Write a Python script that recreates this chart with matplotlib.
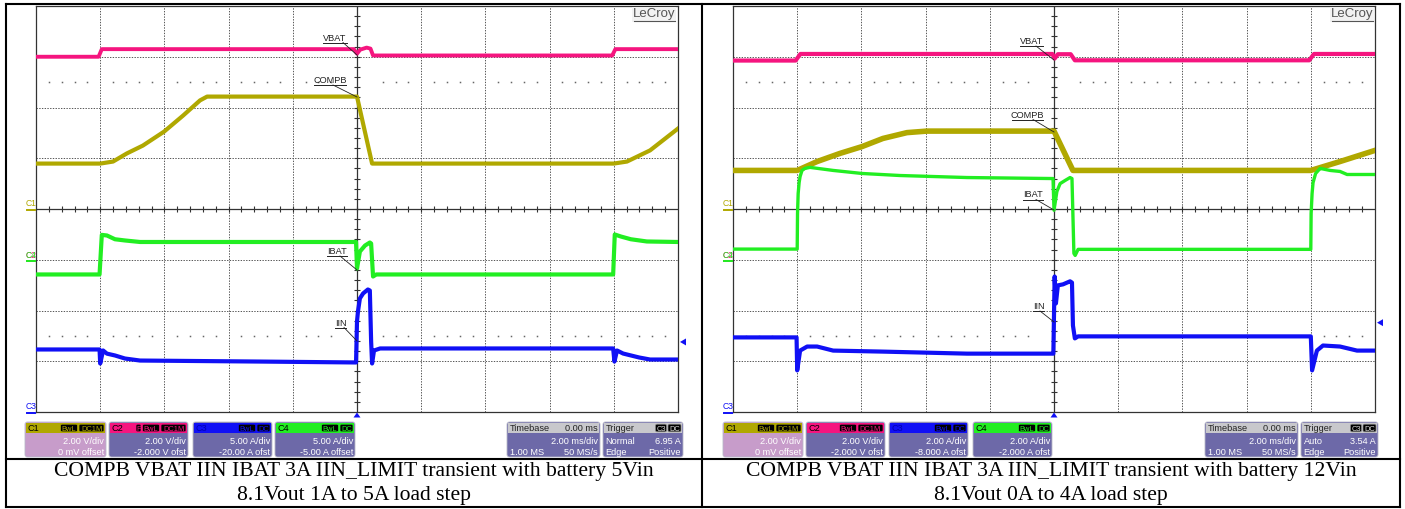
import matplotlib
matplotlib.use("Agg")
import matplotlib.pyplot as plt
from matplotlib.patches import FancyBboxPatch, Rectangle, Polygon
from matplotlib.collections import LineCollection
import numpy as np

W, H = 1405, 510

# ---------------- channel settings (per division, offset) ----------------
left_scales = [2.0, 2.0, 5.0, 5.0]          # C1 .. C4
left_offsets = [0.0, -2.0, -20.0, -5.0]
right_scales = [2.0, 2.0, 2.0, 2.0]
right_offsets = [0.0, -2.0, -8.0, -2.0]

# ---------------- left capture: 5Vin, 1A -> 5A load ----------------
left_compb_t = [-10, -8.0, -7.6, -7.17, -6.67, -6.01, -5.42, -4.89, -4.67, 0.0, 0.47, 8.0, 8.41, 9.13, 10]
left_compb_v = [1.79, 1.79, 1.87, 2.19, 2.50, 3.05, 3.68, 4.28, 4.43, 4.43, 1.79, 1.79, 1.87, 2.31, 3.17]

left_vbat_t = [-10, -8.05, -7.95, -0.1, 0.0, 0.1, 0.3, 0.42, 0.5, 7.95, 8.05, 10]
left_vbat_v = [8.0, 8.0, 8.30, 8.30, 8.12, 8.28, 8.36, 8.32, 8.05, 8.05, 8.30, 8.30]

left_ibat_t = [-10, -8.02, -7.95, -7.79, -7.54, -7.23, -6.76, -0.03, 0.0, 0.09, 0.25, 0.40, 0.44, 0.50, 0.6,
               7.98, 8.03, 8.22, 8.53, 9.03, 10]
left_ibat_a = [-1.45, -1.45, 2.45, 2.39, 2.02, 1.90, 1.75, 1.75, -0.86, 0.81, 1.40, 1.70, 1.60, -1.65, -1.45,
               -1.45, 2.49, 2.29, 2.02, 1.80, 1.75]

left_iin_t = [-10, -8.02, -8.0, -7.91, -7.79, -7.54, -7.23, -6.76, -3.02, -0.03, 0.0, 0.03, 0.09, 0.19, 0.34,
              0.40, 0.44, 0.47, 0.53, 0.72, 7.98, 8.02, 8.10, 8.29, 8.79, 9.13, 10]
left_iin_a = [6.16, 6.16, 4.78, 6.06, 5.75, 5.57, 5.27, 5.07, 4.97, 4.88, 8.92, 9.90, 11.19, 11.68, 12.07,
              11.97, 6.95, 4.78, 6.06, 6.26, 6.26, 4.97, 6.06, 5.76, 5.37, 5.17, 5.17]

# ---------------- right capture: 12Vin, 0A -> 4A load ----------------
right_compb_t = [-10, -8.0, -7.38, -6.67, -5.98, -5.33, -4.58, -3.96, 0.0, 0.59, 8.0, 8.91, 10]
right_compb_v = [1.52, 1.52, 1.87, 2.19, 2.46, 2.78, 3.01, 3.07, 3.07, 1.52, 1.52, 1.87, 2.31]

right_vbat_t = [-10, -8.05, -7.9, -0.05, 0.02, 0.12, 0.52, 0.65, 7.95, 8.1, 10]
right_vbat_v = [7.85, 7.85, 8.11, 8.11, 7.93, 8.10, 8.10, 7.86, 7.86, 8.11, 8.11]

right_ibat_t = [-10, -8.0, -7.99, -7.97, -7.94, -7.91, -7.85, -7.76, -7.60, -6.88, -5.98, -4.80, -2.71,
                -0.03, 0.0, 0.09, 0.19, 0.34, 0.50, 0.56, 0.62, 0.66, 0.75,
                8.0, 8.01, 8.04, 8.07, 8.15, 8.29, 8.6, 8.91, 9.13, 10]
right_ibat_a = [0.42, 0.42, 1.82, 2.61, 3.04, 3.28, 3.52, 3.60, 3.64, 3.52, 3.40, 3.32, 3.24,
                3.20, 1.95, 2.69, 3.00, 3.12, 3.24, 3.20, 0.25, 0.17, 0.41,
                0.41, 1.82, 2.61, 3.04, 3.40, 3.60, 3.52, 3.48, 3.36, 3.36]

right_iin_t = [-10, -8.02, -8.0, -7.91, -7.69, -7.38, -6.88, -5.33, -2.71, -0.02, 0.02, 0.06, 0.12, 0.28,
               0.50, 0.56, 0.59, 0.65, 0.75, 8.0, 8.04, 8.19, 8.38, 8.91, 9.44, 10]
right_iin_a = [2.94, 2.94, 1.64, 2.42, 2.58, 2.58, 2.42, 2.38, 2.30, 2.30, 5.34, 4.28, 4.99, 5.03,
               5.15, 5.10, 3.41, 2.90, 2.98, 2.98, 1.64, 2.42, 2.62, 2.58, 2.42, 2.42]

# ---------------- info-bar texts ----------------
left_ch_lines = [("2.00 V/div", "0 mV offset"), ("2.00 V/div", "-2.000 V ofst"),
                 ("5.00 A/div", "-20.00 A ofst"), ("5.00 A/div", "-5.00 A offset")]
right_ch_lines = [("2.00 V/div", "0 mV offset"), ("2.00 V/div", "-2.000 V ofst"),
                  ("2.00 A/div", "-8.000 A ofst"), ("2.00 A/div", "-2.000 A ofst")]
left_ch_badges = [["BwL", "DC1M"], ["F", "BwL", "DC1M"], ["BwL", "DC"], ["BwL", "DC"]]
right_ch_badges = [["BwL", "DC1M"], ["BwL", "DC1M"], ["BwL", "DC"], ["BwL", "DC"]]
left_trigger = ("Normal", "6.95 A")
right_trigger = ("Auto", "3.54 A")
left_caption = ["COMPB VBAT IIN IBAT 3A IIN_LIMIT transient with battery 5Vin",
                "8.1Vout 1A to 5A load step"]
right_caption = ["COMPB VBAT IIN IBAT 3A IIN_LIMIT transient with battery 12Vin",
                 "8.1Vout 0A to 4A load step"]

# ---------------- styling ----------------
COL = {"C1": "#b0a800", "C2": "#f5157f", "C3": "#1010f5", "C4": "#22ee22"}
BODY = "#6d69a8"
SANS = "Liberation Sans"
SERIF = "Liberation Serif"

fig = plt.figure(figsize=(W / 100, H / 100), dpi=100)
fig.patch.set_facecolor("white")

ov = fig.add_axes([0, 0, 1, 1], zorder=5)
ov.set_xlim(0, W)
ov.set_ylim(H, 0)
ov.axis("off")
ov.patch.set_alpha(0)


def to_div(values, scale, offset):
    return (np.asarray(values, dtype=float) + offset) / scale


def scope_grid(x0):
    ax = fig.add_axes([x0 / W, 1 - 413 / H, 642 / W, 406 / H], zorder=2)
    ax.set_xlim(-10, 10)
    ax.set_ylim(-4, 4)
    ax.set_facecolor("none")
    ax.set_xticks([])
    ax.set_yticks([])
    for s in ax.spines.values():
        s.set_linewidth(0.9)
        s.set_color("#333333")
    for k in range(-4, 5):
        if k != 0:
            ax.axvline(2 * k, color="#555555", lw=0.7, ls=(0, (1.4, 1.4)), zorder=1)
    for k in range(-3, 4):
        if k != 0:
            ax.axhline(k, color="#555555", lw=0.7, ls=(0, (1.4, 1.4)), zorder=1)
    ax.axhline(0, color="#333333", lw=0.9, zorder=1)
    ax.axvline(0, color="#333333", lw=0.9, zorder=1)
    segs = [[(i * 0.4, -0.055), (i * 0.4, 0.055)] for i in range(-24, 25)]
    segs += [[(-0.09, j * 0.2), (0.09, j * 0.2)] for j in range(-19, 20)]
    ax.add_collection(LineCollection(segs, colors="#333333", linewidths=0.8, zorder=1))
    xs = np.array([i * 0.4 for i in range(-24, 25) if i % 5 != 0 or i == 0])
    xs = xs[np.abs(xs) > 0.5]
    for yy in (2.5, -2.5):
        ax.plot(xs, np.full_like(xs, yy), ls="none", marker="s", ms=1.1,
                mfc="#666666", mec="none", zorder=1)
    return ax


def draw_traces(ax, scales, offsets, compb, vbat, iin, ibat, widths):
    ax.plot(compb[0], to_div(compb[1], scales[0], offsets[0]), color=COL["C1"], lw=widths[0], zorder=3)
    ax.plot(vbat[0], to_div(vbat[1], scales[1], offsets[1]), color=COL["C2"], lw=widths[1], zorder=3)
    ax.plot(iin[0], to_div(iin[1], scales[2], offsets[2]), color=COL["C3"], lw=widths[2], zorder=3)
    ax.plot(ibat[0], to_div(ibat[1], scales[3], offsets[3]), color=COL["C4"], lw=widths[3], zorder=4)


def tag(text, xl, xr, yc, yu, lead_from, lead_to):
    ov.text((xl + xr) / 2, yc, text, ha="center", va="center", fontsize=6.6,
            family=SANS, color="#222222")
    ov.plot([xl, xr], [yu, yu], color="#222222", lw=0.7)
    ov.plot([lead_from[0], lead_to[0]], [lead_from[1], lead_to[1]], color="#222222", lw=0.6)


def ground_marker(x, y, name, color):
    ov.text(x + 4, y - 6, name, ha="center", va="center", fontsize=6.2, family=SANS, color=color)
    ov.plot([x, x + 8], [y + 0.5, y + 0.5], color=color, lw=1.4)


BADGE_W = {"F": 6, "BwL": 18, "DC1M": 26, "DC": 14, "C3": 12}


def badges(xr, names, color, txt_color=None):
    x = xr
    for name in reversed(names):
        w = BADGE_W[name]
        ov.add_patch(FancyBboxPatch((x - w + 0.5, 425.2), w - 1, 7.6,
                                    boxstyle="round,pad=0,rounding_size=1.5",
                                    fc="black", ec=color, lw=0.5, zorder=6))
        ov.text(x - w / 2, 429.2, name, ha="center", va="center", fontsize=5.4,
                family=SANS, color=txt_color or color, zorder=7)
        x -= w + 0.5


def info_box(x0, x1, head_col, body_col):
    ov.add_patch(FancyBboxPatch((x0, 423), x1 - x0, 35, boxstyle="round,pad=0,rounding_size=2.5",
                                fc=body_col, ec="#b8b8c8", lw=0.6, zorder=4))
    ov.add_patch(Rectangle((x0 + 0.6, 423.6), x1 - x0 - 1.2, 10.8, fc=head_col, ec="none", zorder=5))


def bar_text(x, y, s, ha, color="white"):
    ov.text(x, y, s, ha=ha, va="center", fontsize=6.6, family=SANS, color=color, zorder=7)


def info_bar(boxes, ch_lines, ch_badges, tb, trig_box, trig):
    heads = [COL["C1"], COL["C2"], COL["C3"], COL["C4"]]
    bodies = ["#c79cca", BODY, BODY, BODY]
    name_cols = ["black", "black", "#0000b0", "black"]
    for i, (x0, x1) in enumerate(boxes):
        info_box(x0, x1, heads[i], bodies[i])
        bar_text(x0 + 2.5, 429, "C%d" % (i + 1), "left", name_cols[i])
        badges(x1 - 1.5, ch_badges[i], heads[i])
        bar_text(x1 - 2, 442, ch_lines[i][0], "right")
        bar_text(x1 - 2, 452.5, ch_lines[i][1], "right")
    x0, x1 = tb
    info_box(x0, x1, "#c8c8cc", BODY)
    bar_text(x0 + 2.5, 429, "Timebase", "left", "#222222")
    bar_text(x1 - 2, 429, "0.00 ms", "right", "#222222")
    bar_text(x1 - 2, 442, "2.00 ms/div", "right")
    bar_text(x0 + 2.5, 452.5, "1.00 MS", "left")
    bar_text(x1 - 2, 452.5, "50 MS/s", "right")
    x0, x1 = trig_box
    info_box(x0, x1, "#c8c8cc", BODY)
    bar_text(x0 + 2.5, 429, "Trigger", "left", "#222222")
    badges(x1 - 1.5, ["C3", "DC"], "#888888", "#dddddd")
    bar_text(x0 + 2.5, 442, trig[0], "left")
    bar_text(x1 - 2, 442, trig[1], "right")
    bar_text(x0 + 2.5, 452.5, "Edge", "left")
    bar_text(x1 - 2, 452.5, "Positive", "right")


def logo(xc):
    ov.add_patch(Rectangle((xc - 22, 7.5), 44, 15, fc="#f2f2f2", ec="none", zorder=4))
    ov.text(xc, 14.5, "LeCroy", ha="center", va="center", fontsize=9.5, family=SANS,
            color="#555555", zorder=6)
    ov.plot([xc - 20.5, xc + 20.5], [21.5, 21.5], color="#555555", lw=0.8, zorder=6)


def trigger_marks(xc, trig_div):
    ov.add_patch(Polygon([[xc - 3.5, 418.5], [xc + 3.5, 418.5], [xc, 413.5]], closed=True,
                         fc=COL["C3"], ec="none", zorder=6))
    ytr = 210.5 - trig_div * 50.75
    xr = xc + 326
    ov.add_patch(Polygon([[xr - 3, ytr], [xr + 3, ytr - 3.5], [xr + 3, ytr + 3.5]], closed=True,
                         fc=COL["C3"], ec="none", zorder=6))


# ---------------- left panel ----------------
axL = scope_grid(36)
draw_traces(axL, left_scales, left_offsets,
            (left_compb_t, left_compb_v), (left_vbat_t, left_vbat_v),
            (left_iin_t, left_iin_a), (left_ibat_t, left_ibat_a),
            [3.0, 2.8, 3.0, 3.0])
tag("VBAT", 323, 347, 38.5, 43.5, (343, 43.5), (357, 56))
tag("COMPB", 314, 346, 80.5, 86, (333, 86), (357, 98))
tag("IBAT", 327, 347, 251.5, 257, (340, 257), (357, 271))
tag("IIN", 335, 346, 323.5, 328.5, (344, 328.5), (357, 342))
ground_marker(27, 210, "C1", COL["C1"])
ground_marker(27, 261, "C2", COL["C2"])
ground_marker(27, 261, "C4", COL["C4"])
ground_marker(27, 413, "C3", COL["C3"])
logo(654)
trigger_marks(357, (6.95 + left_offsets[2]) / left_scales[2])
info_bar([(25, 106), (109, 188), (193, 272), (275, 355)], left_ch_lines, left_ch_badges,
         (507, 600), (603, 683), left_trigger)

# ---------------- right panel ----------------
axR = scope_grid(733)
draw_traces(axR, right_scales, right_offsets,
            (right_compb_t, right_compb_v), (right_vbat_t, right_vbat_v),
            (right_iin_t, right_iin_a), (right_ibat_t, right_ibat_a),
            [4.0, 3.0, 3.0, 2.4])
tag("VBAT", 1020, 1043, 42, 47, (1036, 47), (1054, 61))
tag("COMPB", 1012, 1043, 115.5, 120.5, (1033, 120.5), (1054, 133))
tag("IBAT", 1023, 1043, 195, 200.5, (1036, 200.5), (1054, 211))
tag("IIN", 1033, 1044, 306.5, 312, (1040, 312), (1054, 323))
ground_marker(724, 210, "C1", COL["C1"])
ground_marker(724, 261, "C2", COL["C2"])
ground_marker(724, 261, "C4", COL["C4"])
ground_marker(724, 413, "C3", COL["C3"])
logo(1352)
trigger_marks(1054, (3.54 + right_offsets[2]) / right_scales[2])
info_bar([(723, 803), (806, 885), (889, 968), (973, 1052)], right_ch_lines, right_ch_badges,
         (1205, 1298), (1301, 1378), right_trigger)

# ---------------- table frame and captions ----------------
lw = 1.5
ov.plot([6, 1400], [4.5, 4.5], color="black", lw=lw)
ov.plot([6, 1400], [459.5, 459.5], color="black", lw=lw)
ov.plot([6, 1400], [508, 508], color="black", lw=lw)
for xv in (6, 702, 1400):
    ov.plot([xv, xv], [4.5, 508], color="black", lw=lw)

for xc, lines in ((354, left_caption), (1051, right_caption)):
    ov.text(xc, 472, lines[0], ha="center", va="center", fontsize=15.6, family=SERIF, color="black")
    ov.text(xc, 496, lines[1], ha="center", va="center", fontsize=15.6, family=SERIF, color="black")

fig.savefig("out.png", dpi=100)
